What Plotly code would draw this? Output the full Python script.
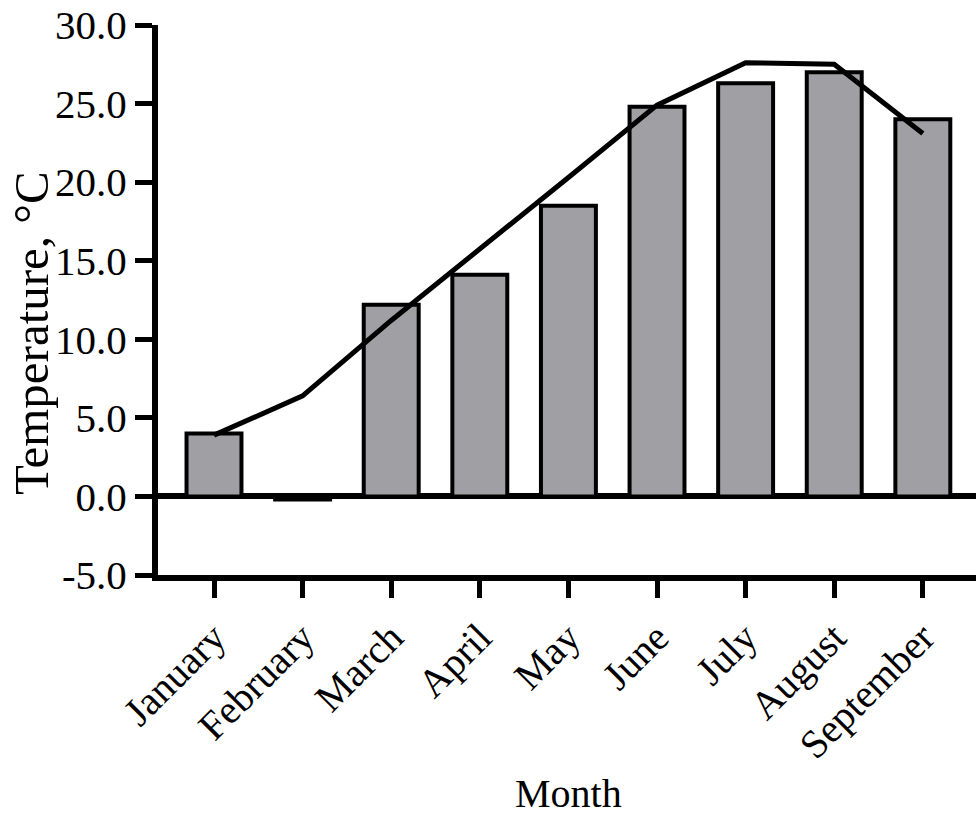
import plotly.graph_objects as go

# Monthly temperatures: bars = observed monthly mean, line = long-term mean
months = ["January", "February", "March", "April", "May", "June",
          "July", "August", "September"]
bar_temp = [4.0, -0.2, 12.2, 14.1, 18.5, 24.8, 26.3, 27.0, 24.0]
line_temp = [3.9, 6.4, 11.2, 15.7, 20.3, 24.9, 27.6, 27.5, 23.1]

y_tick_vals = [-5, 0, 5, 10, 15, 20, 25, 30]
y_tick_text = ["-5.0", "0.0", "5.0", "10.0", "15.0", "20.0", "25.0", "30.0"]

FONT = "Liberation Serif, Times New Roman, serif"
W, H = 976, 817
L, R, T, B = 158, 0, 25, 242
PW, PH = W - L - R, H - T - B

fig = go.Figure()
fig.add_trace(go.Bar(
    x=months, y=bar_temp, width=0.62,
    marker=dict(color="#a09fa4", line=dict(color="black", width=4)),
))
fig.add_trace(go.Scatter(
    x=months, y=line_temp, mode="lines",
    line=dict(color="black", width=5),
))

axis_common = dict(
    showline=True, linecolor="black", linewidth=6,
    ticks="outside", ticklen=17, tickwidth=5, tickcolor="black",
    showgrid=False, automargin=False,
)

fig.update_layout(
    width=W, height=H,
    margin=dict(l=L, r=R, t=T, b=B, pad=0),
    paper_bgcolor="white", plot_bgcolor="white",
    showlegend=False,
    font=dict(family=FONT, color="black"),
    xaxis=dict(type="category", range=[-0.632, 8.6], tickangle=-45,
               tickfont=dict(size=40), zeroline=False, **axis_common),
    yaxis=dict(range=[-5, 30], tickmode="array", tickvals=y_tick_vals,
               ticktext=y_tick_text, tickfont=dict(size=41),
               zeroline=True, zerolinecolor="black", zerolinewidth=6,
               **axis_common),
    annotations=[
        dict(text="Temperature, °C", textangle=-90, showarrow=False,
             xref="paper", yref="paper",
             x=(31.5 - L) / PW, y=(T + PH - 333.5) / PH,
             xanchor="center", yanchor="middle",
             font=dict(size=49, family=FONT, color="black")),
        dict(text="Month", showarrow=False,
             xref="paper", yref="paper",
             x=(568 - L) / PW, y=(T + PH - 793) / PH,
             xanchor="center", yanchor="middle",
             font=dict(size=40, family=FONT, color="black")),
    ],
)

fig.write_html("out.html", config={"displayModeBar": False})
